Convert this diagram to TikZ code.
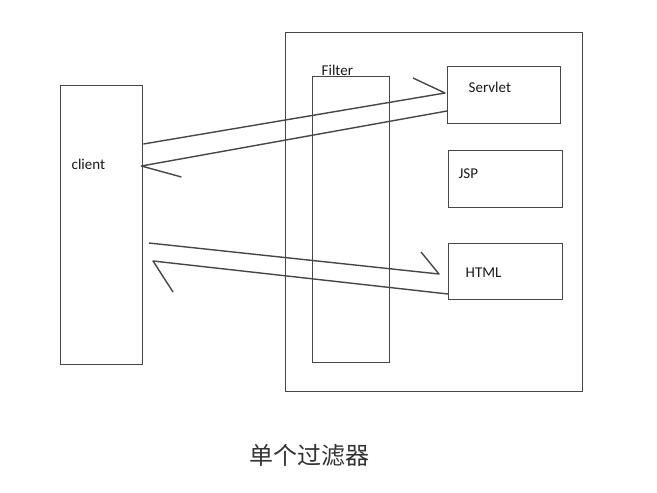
\documentclass[tikz,border=0pt]{standalone}
\usepackage{fontspec}
\setmainfont{Carlito}
\newfontfamily\cjk{Noto Sans CJK SC}
\usetikzlibrary{positioning, calc}

\begin{document}
\begin{tikzpicture}[x=1pt, y=-1pt, line width=1.4pt,
    box/.style={draw=black!72, inner sep=0pt, anchor=north west},
    lbl/.style={font=\fontsize{15}{18}\selectfont, text=black!90, inner sep=0pt, anchor=base west},
    wire/.style={draw=black!72, line join=round}]
  \useasboundingbox (0,0) rectangle (657,493);

  % Server side container
  \node[box, minimum width=297pt, minimum height=359pt] (server) at (285,32) {};

  % Client
  \node[box, minimum width=82pt, minimum height=279pt] (client) at (60,85) {};
  \node[lbl] (clientname) at (71,169) {client};

  % Filter
  \node[box, minimum width=77pt, minimum height=286pt] (filter) at (312,76) {};
  \node[lbl] (filtername) at (321,75) {Filter};

  % Resources
  \node[box, minimum width=113pt, minimum height=57pt] (servlet) at (447,66) {};
  \node[lbl] (servletname) at (468,92) {Servlet};
  \node[box, minimum width=114pt, minimum height=57pt] (jsp) at (448,150) {};
  \node[lbl] (jspname) at (458,178) {JSP};
  \node[box, minimum width=114pt, minimum height=56pt] (html) at (448,243) {};
  \node[lbl] (htmlname) at (465,277) {HTML};

  % Request / response to Servlet
  \draw[wire] (client.east |- 0,144) -- ($(servlet.west |- 0,93)+(-2,0)$) -- +(-32,-15);
  \draw[wire] (servlet.west |- 0,111) -- ($(client.east |- 0,166)+(-2,0)$) -- +(40,11);

  % Request / response to HTML
  \coordinate (htmlreq) at (149,243);
  \coordinate (htmlresp) at (153,261);
  \draw[wire] (htmlreq) -- ($(html.west |- 0,274)+(-9,0)$) -- +(-18,-22);
  \draw[wire] (html.west |- 0,294) -- (htmlresp) -- +(20,31);

  % Caption
  \node[font=\cjk\fontsize{24}{28}\selectfont, text=black!80, anchor=base] (caption) at (309,464) {单个过滤器};
\end{tikzpicture}
\end{document}
